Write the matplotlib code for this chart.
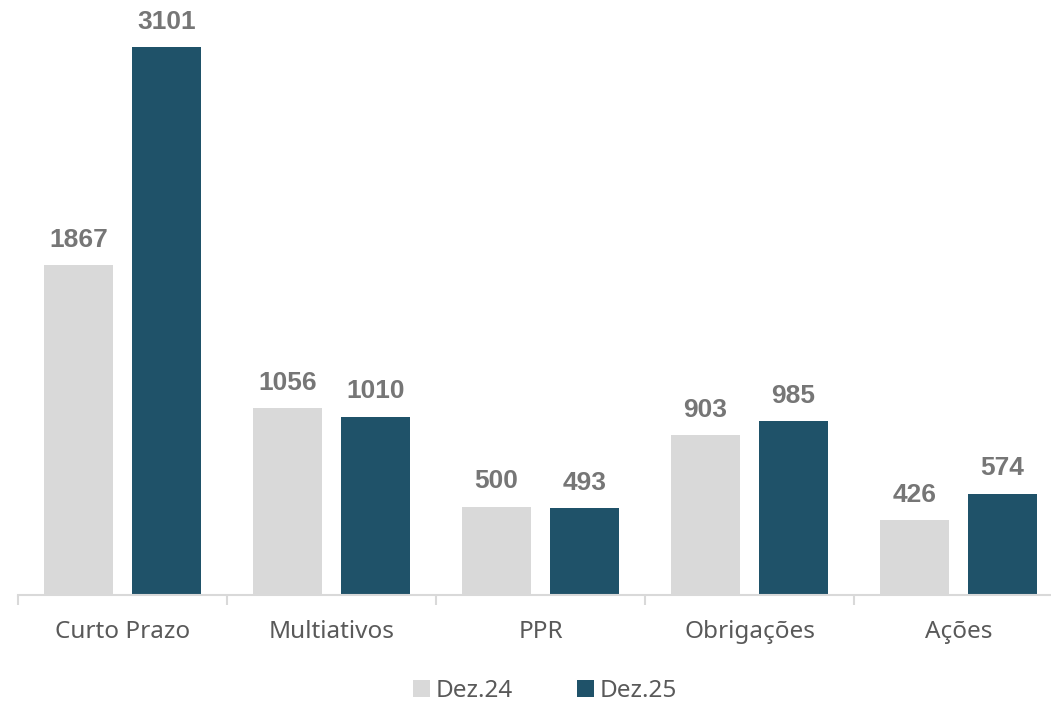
import matplotlib.pyplot as plt
import numpy as np

categories = ['Curto Prazo', 'Multiativos', 'PPR', 'Obrigações', 'Ações']
dez24 = [1867, 1056, 500, 903, 426]
dez25 = [3101, 1010, 493, 985, 574]
series_names = ['Dez.24', 'Dez.25']

light = '#D9D9D9'
dark = '#1F5269'
label_color = '#767676'
text_color = '#595959'

W, H = 1051, 705
fig = plt.figure(figsize=(W / 100, H / 100), dpi=100)
ax = fig.add_axes([18 / W, 110 / H, 1045 / W, 565.5 / H])

x = np.arange(len(categories))
bw = 0.33
off = 0.21
b1 = ax.bar(x - off, dez24, bw, color=light, label=series_names[0])
b2 = ax.bar(x + off, dez25, bw, color=dark, label=series_names[1])

for bars in (b1, b2):
    for r in bars:
        ax.annotate(str(int(r.get_height())), (r.get_x() + r.get_width() / 2, r.get_height()),
                    xytext=(0, 9.5), textcoords='offset points', ha='center', va='bottom',
                    fontsize=19, fontweight='bold', color=label_color, family='Liberation Sans')

ax.set_xlim(-0.5, len(categories) - 0.5)
ax.set_ylim(0, 3200)
ax.set_yticks([])
for s in ['top', 'right', 'left']:
    ax.spines[s].set_visible(False)
ax.spines['bottom'].set_color(light)
ax.spines['bottom'].set_linewidth(1.5)

ax.set_xticks(x)
ax.set_xticklabels(categories, fontsize=17.5, color=text_color, family='Noto Sans')
ax.tick_params(axis='x', which='major', length=0, pad=18)
ax.set_xticks(np.arange(-0.5, len(categories), 1), minor=True)
ax.tick_params(axis='x', which='minor', length=7, width=1.5, color=light)

leg = fig.legend(loc='center', bbox_to_anchor=(545 / W, 1 - 691 / H), ncol=2, frameon=False,
                 prop={'family': 'Noto Sans', 'size': 17.5}, handlelength=0.7, handleheight=0.7,
                 columnspacing=2.6, handletextpad=0.25)
for t in leg.get_texts():
    t.set_color(text_color)

fig.savefig('out.png', dpi=100)
